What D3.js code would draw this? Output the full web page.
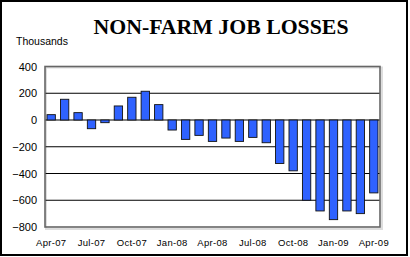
<!DOCTYPE html>
<html>
<head>
<meta charset="utf-8">
<script src="https://cdn.jsdelivr.net/npm/d3@7"></script>
<style>
body { margin: 0; background: #fff; }
svg { display: block; }
</style>
</head>
<body>
<svg></svg>
<script>
var width = 410;
var height = 257;
// months from Apr-07 to Apr-09
var months = ["Apr-07","May-07","Jun-07","Jul-07","Aug-07","Sep-07","Oct-07","Nov-07","Dec-07",
              "Jan-08","Feb-08","Mar-08","Apr-08","May-08","Jun-08","Jul-08","Aug-08","Sep-08",
              "Oct-08","Nov-08","Dec-08","Jan-09","Feb-09","Mar-09","Apr-09"];
// job change in thousands
var jobs = [40, 155, 55, -65, -20, 105, 170, 215, 115, -75, -145, -115, -160, -135, -160, -130,
            -170, -325, -380, -600, -680, -745, -680, -700, -545];
var tickLabels = ["Apr-07","Jul-07","Oct-07","Jan-08","Apr-08","Jul-08","Oct-08","Jan-09","Apr-09"];
var yTicks = [400, 200, 0, -200, -400, -600, -800];

//plot area edges
var plotLeft = 45, plotRight = 380, plotTop = 66.5, plotBottom = 227;

var svg = d3.select("svg")
    .attr("width", width)
    .attr("height", height);

//outer frame
svg.append("rect")
    .attr("x", 1).attr("y", 1)
    .attr("width", 406).attr("height", 254)
    .attr("fill", "none")
    .attr("stroke", "#000")
    .attr("stroke-width", 2);

var xScale = d3.scaleBand()
    .domain(months)
    .range([plotLeft, plotRight])
    .paddingInner(0.38)
    .paddingOuter(0.15);

var yScale = d3.scaleLinear()
    .domain([-800, 400])
    .range([plotBottom, plotTop]);

//light shadow around plot frame
svg.append("rect")
    .attr("x", plotLeft + 1).attr("y", plotTop + 1)
    .attr("width", plotRight - plotLeft + 1).attr("height", plotBottom - plotTop + 1)
    .attr("fill", "none")
    .attr("stroke", "#ddd")
    .attr("stroke-width", 2);

//grid lines
svg.append("g")
    .selectAll("line")
    .data(yTicks.filter(d => d != 400 && d != -800))
    .enter()
    .append("line")
        .attr("x1", plotLeft).attr("x2", plotRight)
        .attr("y1", d => yScale(d)).attr("y2", d => yScale(d))
        .attr("stroke", "#000")
        .attr("stroke-width", 1.2);

//bars
svg.append("g")
    .selectAll("rect")
    .data(jobs)
    .enter()
    .append("rect")
        .attr("x", (d, i) => xScale(months[i]))
        .attr("y", d => yScale(Math.max(0, d)))
        .attr("width", xScale.bandwidth())
        .attr("height", d => Math.abs(yScale(d) - yScale(0)))
        .attr("fill", "#2f62ff")
        .attr("stroke", "#111")
        .attr("stroke-width", 0.9);

//plot frame
svg.append("rect")
    .attr("x", plotLeft).attr("y", plotTop)
    .attr("width", plotRight - plotLeft).attr("height", plotBottom - plotTop)
    .attr("fill", "none")
    .attr("stroke", "#666")
    .attr("stroke-width", 1.6);

//y axis labels
var yAxis = d3.axisLeft(yScale)
    .tickValues(yTicks)
    .tickSize(0)
    .tickPadding(8);
var gy = svg.append("g")
    .attr("transform", "translate(" + plotLeft + ",0)")
    .call(yAxis);
gy.select(".domain").remove();
gy.selectAll("text")
    .style("font-family", "Liberation Sans, Arial, sans-serif")
    .style("font-size", "11px")
    .attr("fill", "#000");

//x axis labels
var xAxis = d3.axisBottom(xScale)
    .tickValues(tickLabels)
    .tickSize(0)
    .tickPadding(12);
var gx = svg.append("g")
    .attr("transform", "translate(0," + plotBottom + ")")
    .call(xAxis);
gx.select(".domain").remove();
gx.selectAll("text")
    .style("font-family", "Liberation Sans, Arial, sans-serif")
    .style("font-size", "9.5px")
    .style("letter-spacing", "0.3px")
    .attr("fill", "#000");

//title
svg.append("text")
    .attr("x", 221)
    .attr("y", 34)
    .style("text-anchor", "middle")
    .style("font-family", "Liberation Serif, serif")
    .style("font-weight", "bold")
    .style("font-size", "21px")
    .attr("textLength", 255)
    .attr("lengthAdjust", "spacingAndGlyphs")
    .text("NON-FARM JOB LOSSES");

//units
svg.append("text")
    .attr("x", 16)
    .attr("y", 45)
    .style("font-family", "Liberation Sans, Arial, sans-serif")
    .style("font-size", "10.5px")
    .text("Thousands");
</script>
</body>
</html>
